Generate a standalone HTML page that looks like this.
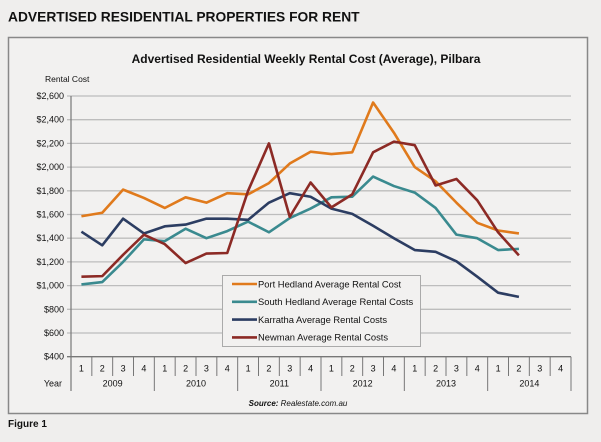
<!DOCTYPE html>
<html><head><meta charset="utf-8"><style>
body{margin:0;background:#efeeed;font-family:"Liberation Sans",sans-serif;}
svg text{font-family:"Liberation Sans",sans-serif;}
</style></head><body>
<svg id="c" width="601" height="437" xmlns="http://www.w3.org/2000/svg">
<text x="8" y="21.5" font-size="13.8" font-weight="bold" fill="#111">ADVERTISED RESIDENTIAL PROPERTIES FOR RENT</text>
<rect x="8.5" y="37.5" width="579" height="376" fill="#f2f1f0" stroke="#888" stroke-width="1.5"/>
<text x="306" y="63" font-size="12" font-weight="bold" text-anchor="middle" fill="#111">Advertised Residential  Weekly Rental Cost (Average), Pilbara</text>
<text x="45" y="82" font-size="8.5" fill="#111">Rental Cost</text>
<text x="298" y="406" font-size="8" font-weight="bold" font-style="italic" text-anchor="middle" fill="#111">Source: <tspan font-weight="normal">Realestate.com.au</tspan></text>
<text x="8" y="427" font-size="10" font-weight="bold" fill="#111">Figure 1</text>
<g id="g"></g>
</svg>
<script>
const years=['2009','2010','2011','2012','2013','2014'];
const yTicks=[400,600,800,1000,1200,1400,1600,1800,2000,2200,2400,2600];
const seriesNames=['Port Hedland Average Rental Cost','South Hedland Average Rental Costs','Karratha Average Rental Costs','Newman Average Rental Costs'];
const portHedland=[1585,1615,1810,1740,1655,1745,1700,1780,1770,1865,2030,2130,2110,2125,2545,2290,2000,1880,1700,1530,1465,1440];
const southHedland=[1010,1030,1200,1390,1375,1480,1400,1460,1540,1450,1570,1650,1745,1750,1920,1840,1785,1655,1430,1400,1300,1310];
const karratha=[1455,1340,1565,1440,1500,1515,1565,1565,1555,1700,1780,1750,1650,1605,1505,1400,1300,1285,1205,1075,940,905];
const newman=[1075,1080,1260,1430,1350,1190,1270,1275,1800,2200,1580,1870,1660,1770,2125,2215,2185,1845,1900,1720,1450,1255];
const colors=['#e07a1c','#3a8a8f','#2c3d62','#8c2a25'];
const L=71,R=571,T=96,B=356.7,nQ=years.length*4,qw=(R-L)/nQ;
const x=i=>L+qw*(i+0.5), y=v=>B-(v-400)/2200*(B-T);
const g=document.getElementById('g'),NS='http://www.w3.org/2000/svg';
function mk(t,a,p){const e=document.createElementNS(NS,t);for(const k in a)e.setAttribute(k,a[k]);(p||g).appendChild(e);return e;}
yTicks.forEach(v=>{
 const ln=mk('line',{x1:L-4,x2:R,y1:y(v),y2:y(v),stroke:v===400?'#777':'#bdbdbd','stroke-width':1.3});
 
 
 const t=mk('text',{x:L-7,y:y(v)+3,'font-size':9,'text-anchor':'end',fill:'#111'});
 t.textContent='$'+v.toLocaleString('en-US');
 
 
});
mk('line',{x1:L,x2:L,y1:T,y2:391,stroke:'#777','stroke-width':1.2});
for(let i=0;i<=nQ;i++){
 const xx=L+qw*i, yr=i%4===0;
 mk('line',{x1:xx,x2:xx,y1:B,y2:yr?391:376,stroke:'#777','stroke-width':1});
 if(i<nQ){const t=mk('text',{x:x(i),y:371.5,'font-size':9,'text-anchor':'middle',fill:'#111'});t.textContent=(i%4)+1;
 
 }
}
years.forEach((yr,k)=>{const t=mk('text',{x:L+qw*(4*k+2),y:386.5,'font-size':9,'text-anchor':'middle',fill:'#111'});t.textContent=yr;
 
 });
const yl=mk('text',{x:62,y:386.5,'font-size':9,'text-anchor':'end',fill:'#111'});yl.textContent='Year';


[portHedland,southHedland,karratha,newman].forEach((s,k)=>{
 const p=mk('polyline',{points:s.map((v,i)=>x(i)+','+y(v)).join(' '),fill:'none',stroke:colors[k],'stroke-width':2.6,'stroke-linejoin':'round'});
 
 
});
const lg=mk('rect',{x:222.5,y:275.5,width:198,height:71,fill:'#f2f1f0',stroke:'#aaa'});


seriesNames.forEach((n,k)=>{const yy=284+k*17.8;
 mk('line',{x1:232,x2:257,y1:yy,y2:yy,stroke:colors[k],'stroke-width':2.6});
 const t=mk('text',{x:258,y:yy+3.3,'font-size':9.4,fill:'#111'});t.textContent=n;
 
 });
</script>
</body></html>
